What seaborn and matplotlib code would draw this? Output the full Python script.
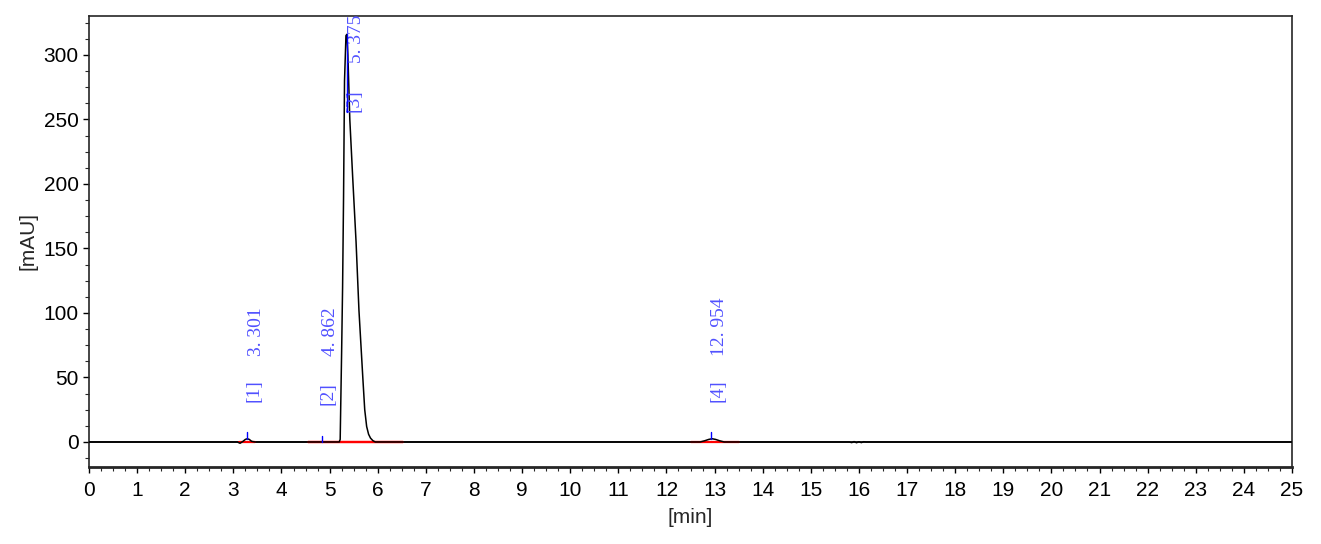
import numpy as np
import matplotlib
matplotlib.use("Agg")
import matplotlib.pyplot as plt
from matplotlib.ticker import MultipleLocator
import seaborn as sns

# chromatogram trace (min, mAU)
time = [0, 3.08, 3.14, 3.20, 3.25, 3.29, 3.33, 3.38, 3.45,
        5.20, 5.22, 5.23, 5.25, 5.27, 5.29, 5.31, 5.34, 5.36, 5.38, 5.42,
        5.48, 5.55, 5.61, 5.69, 5.73, 5.77, 5.81, 5.85, 5.90, 5.95,
        12.70, 12.80, 12.88, 12.95, 13.02, 13.10, 13.20,
        15.80, 15.85, 15.90, 15.95, 16.00, 16.05, 16.10, 16.15, 25]
signal = [0, 0, -1, 0.5, 2, 2.5, 2, 0.5, 0,
          0, 2, 25, 70, 120, 190, 280, 315, 316, 300, 250,
          205, 155, 102, 50, 25, 12, 6, 3, 1, 0,
          0, 1, 2, 2.5, 2, 1, 0,
          0, -0.5, 0.3, -0.6, 0.2, -0.5, 0.2, 0, 0]

# integrated peaks
peak_no = ["1", "2", "3", "4"]
peak_rt = [3.301, 4.862, 5.375, 12.954]
peak_h = [2.5, 0, 316, 2.5]
base_start = [3.12, 4.56, 4.56, 12.52]
base_end = [3.45, 6.52, 6.52, 13.51]

# where the software put its labels (x offset in min, y of "[n]" and of rt)
label_dx = [0.15, 0.13, 0.16, 0.13]
label_y_no = [31, 29, 256, 31]
label_y_rt = [67, 67, 294, 67]

sns.set_style("ticks")
plt.rcParams["font.family"] = ["Liberation Sans", "DejaVu Sans"]

fig = plt.figure(figsize=(13.21, 5.44), dpi=100)
ax = fig.add_axes([89 / 1321, 1 - 467 / 544, (1292 - 89) / 1321, (467 - 16) / 544])

ax.axhline(0, color="black", lw=1.2, zorder=1)
sns.lineplot(x=time, y=signal, ax=ax, color="black", lw=1.1,
             sort=False, estimator=None, zorder=3)

# baselines in red
for s, e in zip(base_start, base_end):
    ax.plot([s, e], [0, 0], color="red", lw=1.6, zorder=2)

lab_col = "#5050ff"
serif = ["Liberation Serif", "DejaVu Serif"]
for n, rt, h, dx, yn, yr in zip(peak_no, peak_rt, peak_h, label_dx, label_y_no, label_y_rt):
    top = h + 5 if h < 100 else h
    bot = h if h < 100 else yn
    ax.plot([rt - 0.02, rt - 0.02], [bot, top], color="blue", lw=1.0, zorder=4)
    ax.text(rt + dx - 0.02, yn, f"[{n}]", rotation=90, ha="center", va="bottom",
            color=lab_col, fontsize=14, family=serif)
    ax.text(rt + dx + 0.02, yr, f"{rt:.3f}".replace(".", ". "), rotation=90,
            ha="center", va="bottom", color=lab_col, fontsize=14,
            family=serif, clip_on=True)

ax.set_xlim(0, 25)
ax.set_ylim(-19.4, 330.2)
ax.xaxis.set_major_locator(MultipleLocator(1))
ax.xaxis.set_minor_locator(MultipleLocator(0.25))
ax.yaxis.set_major_locator(MultipleLocator(50))
ax.yaxis.set_minor_locator(MultipleLocator(12.5))
ax.tick_params(axis="both", which="major", length=4, width=1, labelsize=15, colors="black")
ax.tick_params(axis="both", which="minor", length=3, width=0.8)
ax.tick_params(axis="x", pad=6)

for side in ["top", "right", "left"]:
    ax.spines[side].set_visible(True)
    ax.spines[side].set_linewidth(1.2)
ax.spines["bottom"].set_linewidth(2)

ax.set_xlabel("[min]", fontsize=15, labelpad=6)
ax.set_ylabel("[mAU]", fontsize=15, labelpad=4)

fig.savefig("out.png", dpi=100)
